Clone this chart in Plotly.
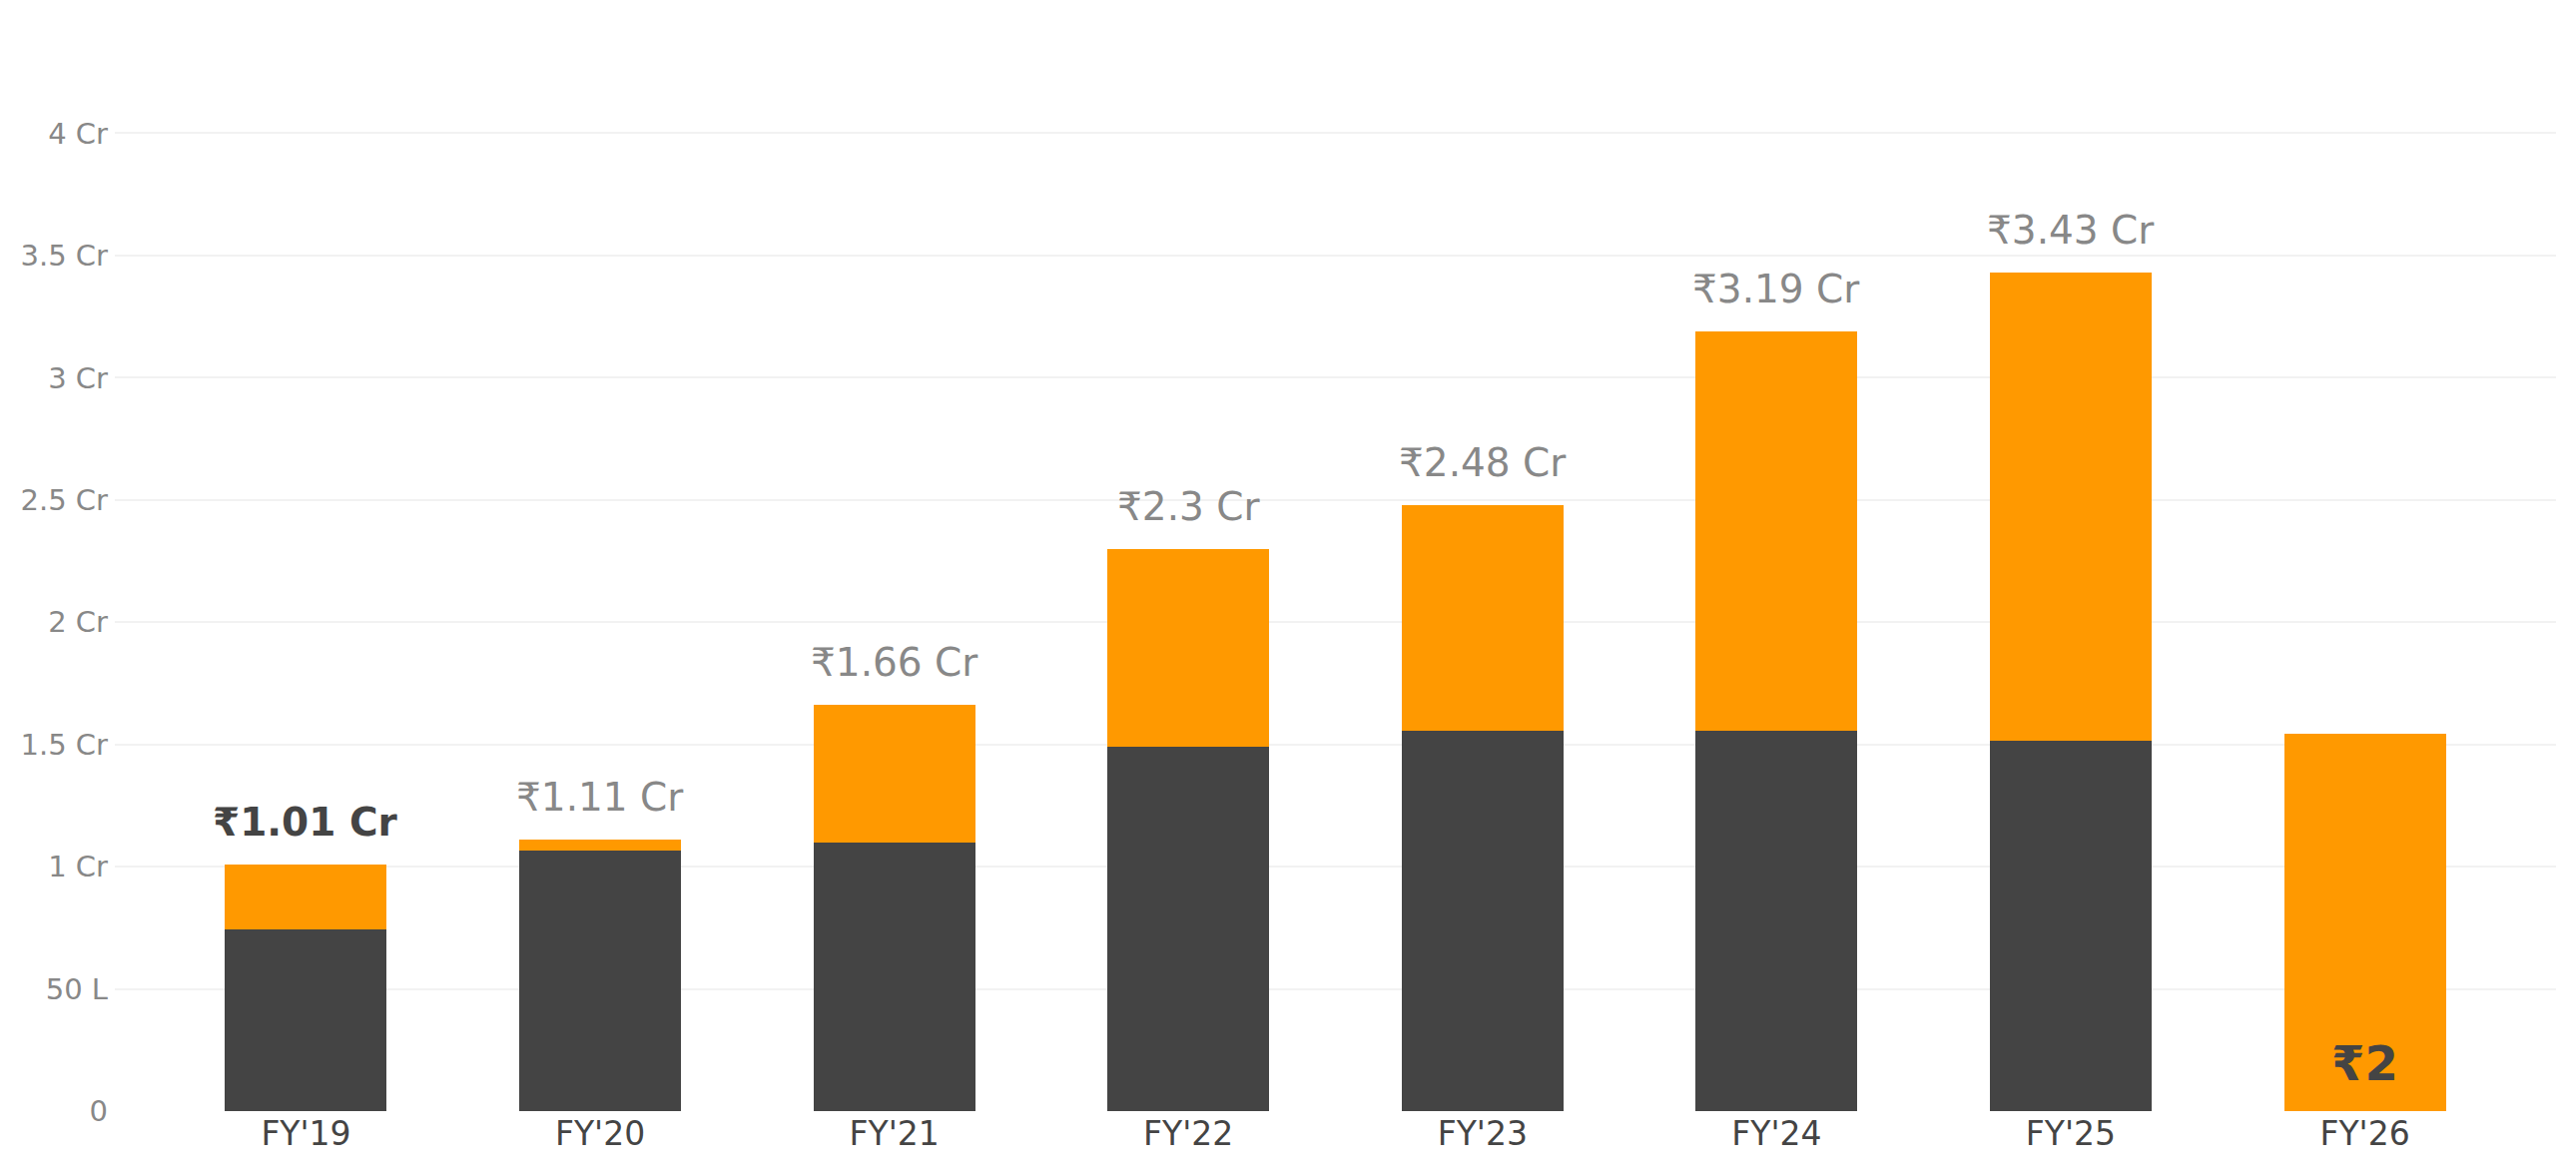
import plotly.graph_objects as go

years = ["FY'19", "FY'20", "FY'21", "FY'22", "FY'23", "FY'24", "FY'25", "FY'26"]
# values in crore
base = [0.745, 1.067, 1.098, 1.49, 1.555, 1.555, 1.514, 0]
total = [1.01, 1.11, 1.66, 2.30, 2.48, 3.19, 3.43, 1.545]
top = [t - b for t, b in zip(total, base)]
labels = ["₹1.01 Cr", "₹1.11 Cr", "₹1.66 Cr", "₹2.3 Cr", "₹2.48 Cr", "₹3.19 Cr", "₹3.43 Cr", ""]
tick_vals = [0, 0.5, 1, 1.5, 2, 2.5, 3, 3.5, 4]
tick_text = ["0", "50 L", "1 Cr", "1.5 Cr", "2 Cr", "2.5 Cr", "3 Cr", "3.5 Cr", "4 Cr"]

DARK = "#444444"
ORANGE = "#FF9900"
FONT = "DejaVu Sans"

fig = go.Figure()
fig.add_trace(go.Bar(x=years, y=base, marker=dict(color=DARK, line=dict(width=0)),
                     width=0.55, hoverinfo="skip"))
fig.add_trace(go.Bar(x=years, y=top, marker=dict(color=ORANGE, line=dict(width=0)),
                     width=0.55, hoverinfo="skip"))

# total labels above bars
for i, (yr, t, lab) in enumerate(zip(years, total, labels)):
    if not lab:
        continue
    first = i == 0
    fig.add_annotation(
        x=yr, y=t, text=("<b>%s</b>" % lab) if first else lab,
        showarrow=False, yanchor="bottom", yshift=18,
        font=dict(family=FONT, size=39, color=DARK if first else "#888888"),
    )

# current year marker inside the last bar
fig.add_annotation(
    x=years[-1], y=0, text="<b>₹2</b>", showarrow=False,
    yanchor="bottom", yshift=18,
    font=dict(family=FONT, size=48, color=DARK),
)

fig.update_layout(
    barmode="stack",
    width=2580, height=1177,
    margin=dict(l=107, r=28, t=52, b=72),
    paper_bgcolor="white", plot_bgcolor="white",
    showlegend=False,
    font=dict(family=FONT),
    xaxis=dict(
        range=[-0.65, 7.65], showgrid=False, zeroline=False, showline=False,
        ticks="", tickfont=dict(family=FONT, size=33, color=DARK),
    ),
    yaxis=dict(
        range=[0, 4.3], tickvals=tick_vals, ticktext=tick_text,
        showgrid=True, gridcolor="#f2f2f2", gridwidth=2,
        zeroline=False, showline=False, ticks="", ticklabelstandoff=6,
        tickfont=dict(family=FONT, size=29, color="#888888"),
    ),
)

fig.write_html("out.html")
